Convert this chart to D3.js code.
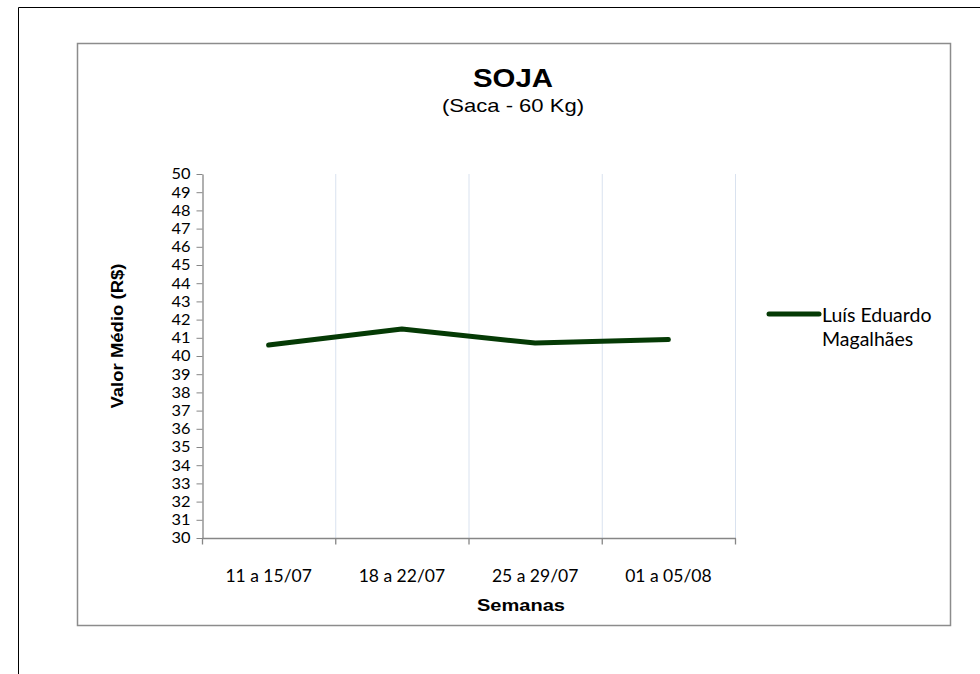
<!DOCTYPE html>
<html><head><meta charset="utf-8">
<script src="https://cdn.jsdelivr.net/npm/d3@7"></script>
<style>body{margin:0;background:#fff}svg{display:block}</style>
</head><body>
<svg id="c" width="980" height="674"></svg>
<script>
const categories = ["11 a 15/07","18 a 22/07","25 a 29/07","01 a 05/08"];
const seriesName = ["Luís Eduardo","Magalhães"];
const values = [40.6, 41.48, 40.71, 40.9];
const yTicks = d3.range(30, 51, 1);

const svg = d3.select("#c");
// page border lines
svg.append("line").attr("x1",18.5).attr("x2",980).attr("y1",7.5).attr("y2",7.5).attr("stroke","#000").attr("stroke-width",1);
svg.append("line").attr("x1",18.5).attr("x2",18.5).attr("y1",7.5).attr("y2",674).attr("stroke","#000").attr("stroke-width",1);
// chart box
svg.append("rect").attr("x",77.5).attr("y",43.5).attr("width",873).attr("height",582)
  .attr("fill","#fff").attr("stroke","#8c8c8c").attr("stroke-width",1.5);

const pL=202, pR=735, pT=174, pB=538;
const x = d3.scaleBand().domain(categories).range([pL,pR]);
const y = d3.scaleLinear().domain([30,50]).range([pB,pT]);

// vertical gridlines at category boundaries
const bounds = categories.map(c=>x(c)+x.bandwidth());
svg.append("g").selectAll("line").data(bounds).join("line")
  .attr("x1",d=>d+0.5).attr("x2",d=>d+0.5).attr("y1",pT).attr("y2",pB)
  .attr("stroke","#d9e2ef").attr("stroke-width",1);

const lab = "Lato, 'Open Sans', sans-serif";
// y axis
const ya = svg.append("g").attr("transform",`translate(${pL+0.5},0)`)
  .call(d3.axisLeft(y).tickValues(yTicks).tickSize(6).tickSizeOuter(0).tickPadding(6).tickFormat(d3.format("d")));
ya.select(".domain").attr("stroke","#868686").attr("stroke-width",1.3);
ya.selectAll(".tick line").attr("stroke","#868686");
ya.selectAll("text").attr("font-family",lab).attr("font-size",15).attr("fill","#000")
  .attr("textLength",19).attr("lengthAdjust","spacingAndGlyphs");

// x axis
const xa = svg.append("g").attr("transform",`translate(0,${pB+0.5})`);
xa.append("line").attr("x1",pL).attr("x2",pR+1).attr("stroke","#868686").attr("stroke-width",1.3);
xa.selectAll(".tk").data([pL].concat(bounds)).join("line").attr("class","tk")
  .attr("x1",d=>d+0.5).attr("x2",d=>d+0.5).attr("y1",0).attr("y2",6).attr("stroke","#868686").attr("stroke-width",1.3);
xa.selectAll("text").data(categories).join("text")
  .attr("x",d=>x(d)+x.bandwidth()/2).attr("y",43).attr("text-anchor","middle")
  .attr("font-family",lab).attr("font-size",17.5).attr("fill","#000").text(d=>d);

// line
const line = d3.line().x((d,i)=>x(categories[i])+x.bandwidth()/2).y(d=>y(d));
svg.append("path").datum(values).attr("d",line).attr("fill","none")
  .attr("stroke","#053a05").attr("stroke-width",5).attr("stroke-linecap","round").attr("stroke-linejoin","round");

// titles
const ar = "Liberation Sans, Arial, sans-serif";
svg.append("text").attr("x",513).attr("y",87).attr("text-anchor","middle")
  .attr("font-family",ar).attr("font-weight","bold").attr("font-size",26)
  .attr("textLength",80).attr("lengthAdjust","spacingAndGlyphs").text("SOJA");
svg.append("text").attr("x",513).attr("y",112).attr("text-anchor","middle")
  .attr("font-family",ar).attr("font-size",19)
  .attr("textLength",142).attr("lengthAdjust","spacingAndGlyphs").text("(Saca - 60 Kg)");
svg.append("text").attr("transform","translate(123,336) rotate(-90)").attr("text-anchor","middle")
  .attr("font-family",ar).attr("font-weight","bold").attr("font-size",16)
  .attr("textLength",145).attr("lengthAdjust","spacingAndGlyphs").text("Valor Médio (R$)");
svg.append("text").attr("x",521).attr("y",611).attr("text-anchor","middle")
  .attr("font-family",ar).attr("font-weight","bold").attr("font-size",16)
  .attr("textLength",88).attr("lengthAdjust","spacingAndGlyphs").text("Semanas");

// legend
svg.append("line").attr("x1",769).attr("x2",819).attr("y1",314).attr("y2",314)
  .attr("stroke","#053a05").attr("stroke-width",5).attr("stroke-linecap","round");
svg.append("g").selectAll("text").data(seriesName).join("text")
  .attr("x",822).attr("y",(d,i)=>322+i*24)
  .attr("font-family",lab).attr("font-size",19.5).attr("fill","#000").text(d=>d);
</script>
</body></html>
